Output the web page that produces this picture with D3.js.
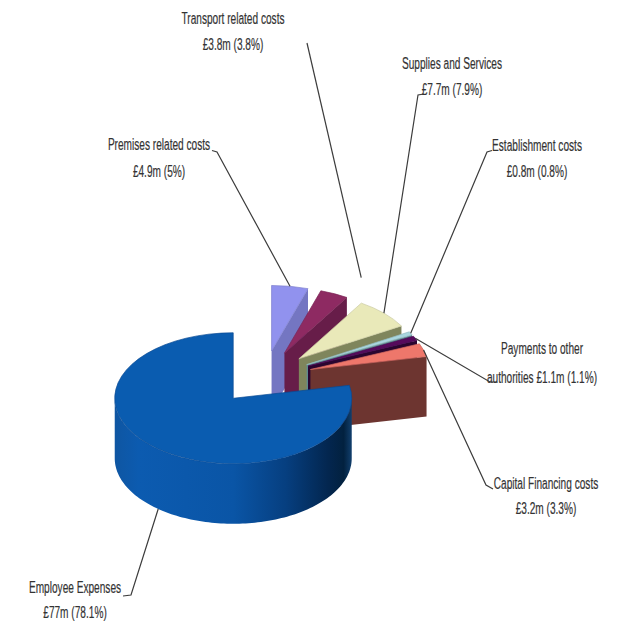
<!DOCTYPE html>
<html>
<head>
<meta charset="utf-8">
<script src="https://cdn.jsdelivr.net/npm/d3@7/dist/d3.min.js"></script>
<style>
html,body{margin:0;padding:0;background:#fff;}
svg{display:block;}
text{font-family:"Liberation Sans",Arial,sans-serif;fill:#333;stroke:#333;stroke-width:0.2;}
</style>
</head>
<body>
<svg id="chart" width="618" height="623"></svg>
<script>
// Expenditure by category, in £m, drawn clockwise from twelve o'clock
const categories = ["Premises related costs","Transport related costs","Supplies and Services","Establishment costs","Payments to other authorities","Capital Financing costs","Employee Expenses"];
const amounts = [4.9,3.8,7.7,0.8,1.1,3.2,77];
const shares = ["5%","3.8%","7.9%","0.8%","1.1%","3.3%","78.1%"];
const amountText = ["£4.9m","£3.8m","£7.7m","£0.8m","£1.1m","£3.2m","£77m"];

const topColours = ["#9192ee","#8e2a62","#e9e9b9","#a9d6de","#560a5c","#ee776b","#0a5cb0"];
const wallColours = ["#7476c2","#671d49","#7f855c","#5f8c92","#2a0530","#6d3530","#0a55a8"];

// Pie geometry: ellipse radii, extrusion height, shared centre, explosion ratio
const rx = 118.5, ry = 65.5, depth = 60;
const pieCentre = [264, 377.5];
const explode = 0.41;

const svg = d3.select("#chart");
const defs = svg.append("defs");

// Rounded wall of the big slice, lit from the left
const wallGrad = defs.append("linearGradient").attr("id","bigWall")
  .attr("gradientUnits","userSpaceOnUse").attr("x1",115).attr("x2",352).attr("y1",0).attr("y2",0);
[[0,"#0f56a2"],[0.1,"#0c5bb0"],[0.5,"#0a55a6"],[0.72,"#063f80"],[0.9,"#03264f"],[0.965,"#02213f"],[1,"#12406f"]]
  .forEach(([o,c]) => wallGrad.append("stop").attr("offset",o).attr("stop-color",c));

const pie = d3.pie().value(d => d).sort(null).startAngle(0).endAngle(2*Math.PI);
const arcs = pie(amounts);
const arc = d3.arc().innerRadius(0).outerRadius(rx);
const line = d3.line();

const onEllipse = (c, a, dy = 0) => [c[0] + rx*Math.sin(a), c[1] - ry*Math.cos(a) + dy];

const slices = arcs.map((d, i) => {
  const mid = (d.startAngle + d.endAngle)/2;
  return {...d, i, mid, centre: onEllipse(pieCentre, mid).map((v, k) => pieCentre[k] + explode*(v - pieCentre[k]))};
});

// Painted back to front, which is the order of the data
slices.forEach(s => {
  const g = svg.append("g");
  const big = s.i === slices.length - 1;

  // Flat wall along the clockwise cut
  if (s.endAngle < Math.PI) {
    const tip = onEllipse(s.centre, s.endAngle);
    g.append("path")
      .attr("d", line([s.centre, tip, [tip[0], tip[1]+depth], [s.centre[0], s.centre[1]+depth]]) + "Z")
      .attr("fill", wallColours[s.i]);
  }

  // Rounded wall on the part of the rim facing the viewer
  const a0 = Math.max(s.startAngle, Math.PI/2), a1 = Math.min(s.endAngle, 3*Math.PI/2);
  if (a1 > a0) {
    const steps = d3.range(0, 121).map(k => a0 + (a1 - a0)*k/120);
    const pts = steps.map(a => onEllipse(s.centre, a)).concat(steps.slice().reverse().map(a => onEllipse(s.centre, a, depth)));
    g.append("path").attr("d", line(pts) + "Z").attr("fill", big ? "url(#bigWall)" : wallColours[s.i]);
  }

  // Top face
  g.append("path")
    .attr("transform", `translate(${s.centre}) scale(1,${ry/rx})`)
    .attr("d", arc(s))
    .attr("fill", topColours[s.i])
    .attr("stroke", big ? "#0a4a94" : d3.color(topColours[s.i]).darker(0.4))
    .attr("stroke-width", 0.7)
    .attr("vector-effect","non-scaling-stroke");
});

// Label placement: text centre x, two baselines, and the leader's elbow beside the text
const labelLayout = [
  {x:159, y:[150,177], elbow:[[212,150.5],[217,152]]},
  {x:233, y:[24,50], elbow:[[307,43]], nudge:[27,-16]},
  {x:452, y:[69,95], elbow:[[424,94],[418,95]]},
  {x:537, y:[151,177], elbow:[[492,150.5],[487,152]]},
  {x:542, y:[354,383], split:"Payments to other", elbow:[[497,382],[490,382]]},
  {x:546, y:[489,514], elbow:[[493,489],[486,485]]},
  {x:75, y:[593,618], elbow:[[123,596],[131,595]], rimDepth:true}
];
const textSquash = 0.585, fontSize = 17.3;

slices.forEach(s => {
  const L = labelLayout[s.i];
  let tip = onEllipse(s.centre, s.mid, L.rimDepth ? depth : 0);
  if (L.nudge) tip = [tip[0]+L.nudge[0], tip[1]+L.nudge[1]];
  svg.append("path")
    .attr("d", line([...L.elbow, tip]))
    .attr("fill","none").attr("stroke","#3c3c3c").attr("stroke-width",1.2);

  const value = `${amountText[s.i]} (${shares[s.i]})`;
  const rows = L.split
    ? [L.split, categories[s.i].slice(L.split.length + 1) + " " + value]
    : [categories[s.i], value];
  rows.forEach((t, r) => svg.append("text")
    .attr("transform", `translate(${L.x},${L.y[r]}) scale(${textSquash},1)`)
    .attr("text-anchor","middle")
    .attr("font-size", fontSize)
    .text(t));
});
</script>
</body>
</html>
